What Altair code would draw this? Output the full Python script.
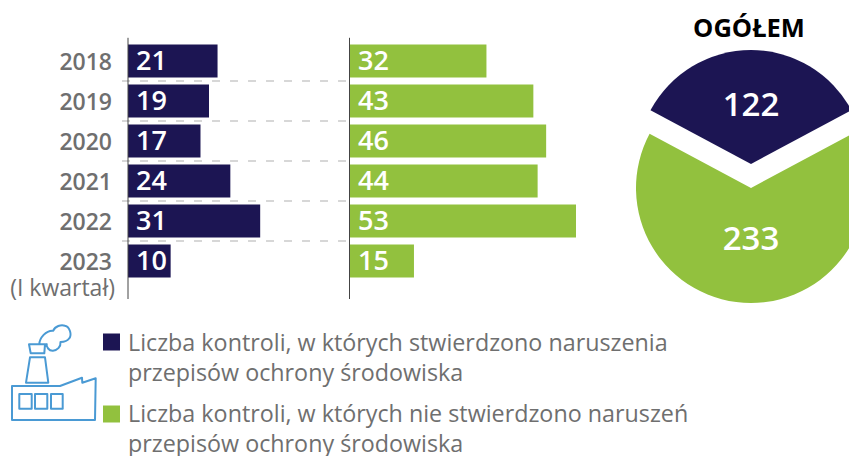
import altair as alt
import pandas as pd

years = ["2018", "2019", "2020", "2021", "2022", "2023"]
violations = [21, 19, 17, 24, 31, 10]
no_violations = [32, 43, 46, 44, 53, 15]
total_labels = ["122", "233"]
totals = [122, 233]
separators = [1, 2, 3, 4, 5]
legend_a = ["Liczba kontroli, w których stwierdzono naruszenia", "przepisów ochrony środowiska"]
legend_b = ["Liczba kontroli, w których nie stwierdzono naruszeń", "przepisów ochrony środowiska"]

NAVY = "#1c1553"
GREEN = "#92c13e"
GRAY = "#6f6f6f"
FONT = "Open Sans"

df = pd.DataFrame({"year": years, "a": violations, "b": no_violations})
ydom = alt.Scale(domain=years, range=[41, 281], paddingInner=0.175, paddingOuter=0.0875)
Y = alt.Y("year:N", scale=ydom, axis=None, sort=None)


def xscale(x0):
    return alt.Scale(domain=[0, 53], range=[x0, x0 + 226], nice=False, zero=False)


def bars(field, colour, x0):
    X = alt.X(f"{field}:Q", scale=xscale(x0), axis=None)
    bar = alt.Chart(df).mark_bar(color=colour, cornerRadius=0).encode(x=X, y=Y)
    txt = alt.Chart(df).mark_text(align="left", baseline="middle", dx=8, dy=1, font=FONT, fontSize=27,
                                  fontWeight=600, color="white").encode(
        x=alt.datum(0, scale=xscale(x0), axis=None), y=Y, text=f"{field}:Q")
    return [bar, txt]


def vline(x0):
    d = pd.DataFrame({"x": [0], "y1": [-0.08], "y2": [6.45]})
    yq = alt.Scale(domain=[0, 6], range=[41, 281], nice=False, zero=False)
    return alt.Chart(d).mark_rule(color="#444444", strokeWidth=1).encode(
        x=alt.X("x:Q", scale=xscale(x0), axis=None),
        y=alt.Y("y1:Q", scale=yq, axis=None), y2="y2:Q")


sep_df = pd.DataFrame({"i": separators, "x1": [-1.4] * 5, "x2": [53] * 5})
seps = alt.Chart(sep_df).mark_rule(color="#b0b0b0", strokeWidth=1.2, strokeDash=[8, 10]).encode(
    x=alt.X("x1:Q", scale=xscale(128), axis=None), x2="x2:Q",
    y=alt.Y("i:Q", scale=alt.Scale(domain=[0, 6], range=[41, 281], nice=False, zero=False), axis=None))

year_txt = alt.Chart(df).mark_text(align="right", baseline="middle", dx=-16, dy=1.5, font=FONT, fontSize=23,
                                   fontWeight=600, color=GRAY).encode(
    x=alt.datum(0, scale=xscale(128), axis=None), y=Y, text="year:N")


def label(text, x, y, size, colour, weight=400, align="left"):
    d = pd.DataFrame({"t": [text]})
    return alt.Chart(d).mark_text(align=align, baseline="middle", font=FONT, fontSize=size,
                                  fontWeight=weight, color=colour).encode(
        x=alt.value(x), y=alt.value(y), text="t:N")


def swatch(colour, x, y):
    d = pd.DataFrame({"k": [colour]})
    return alt.Chart(d).mark_square(size=289, color=colour, opacity=1).encode(
        x=alt.value(x), y=alt.value(y))


starts = [0, totals[0]]
ends = [totals[0], totals[0] + totals[1]]
half = totals[0] / (totals[0] + totals[1]) * 3.14159265
theta_scale = alt.Scale(domain=[0, ends[1]], range=[-half, 2 * 3.14159265 - half])


def slice_(i, colour, cy, r):
    d = pd.DataFrame({"s": [starts[i]], "e": [ends[i]]})
    return alt.Chart(d).mark_arc(color=colour, outerRadius=r).encode(
        theta=alt.Theta("s:Q", scale=theta_scale), theta2="e:Q",
        x=alt.value(751), y=alt.value(cy))


FACTORY = ("M-40 3 L8 3 L30 -5.3 L30.3 -0.3 L43.7 -4.7 L43 37 L-40 37 Z "
           "M-32.7 11 L-20.3 11 L-20.3 25.7 L-32.7 25.7 Z "
           "M-17 11 L-4.7 11 L-4.7 25.7 L-17 25.7 Z "
           "M-1 11 L10.7 11 L10.7 25.7 L-1 25.7 Z "
           "M-26 -0.3 L-22 -25.7 L-7 -25.7 L-3.7 -0.3 Z "
           "M-23 -38.7 L-7 -38.7 L-7.7 -29.7 L-21.3 -29.7 Z "
           "M-12.7 -38.7 C-12.5 -45 -6 -53 1.3 -52.3 C3 -57 9 -58.5 13 -57.3 C18 -56 20 -48 17.3 -44.7 "
           "C15.5 -42 12 -41 8.5 -41 C9 -36 5 -32.5 1 -32.3 C-3 -32 -6 -36 -5.3 -39.7")
icon = alt.Chart(pd.DataFrame({"k": ["factory"]})).mark_point(
    shape=FACTORY, size=4, filled=False, stroke="#4a9ad4", strokeWidth=2, opacity=1, strokeJoin="round").encode(
    x=alt.value(52), y=alt.value(383))

layers = (
    [seps]
    + bars("a", NAVY, 128)
    + bars("b", GREEN, 350)
    + [vline(128), vline(349.5), year_txt]
    + [label("(I kwartał)", 115, 288.5, 23, GRAY, 400, "right")]
    + [slice_(0, NAVY, 164, 114), slice_(1, GREEN, 188, 115)]
    + [label("OGÓŁEM", 749, 29, 25.5, "black", 700, "center"),
       label(total_labels[0], 751, 106, 33, "white", 600, "center"),
       label(total_labels[1], 751, 240, 33, "white", 600, "center")]
    + [icon, swatch(NAVY, 111.5, 342), swatch(GREEN, 111.5, 414)]
    + [label(legend_a[0], 128, 343.5, 23.3, GRAY), label(legend_a[1], 128, 374, 23.3, GRAY),
       label(legend_b[0], 128, 415, 23.3, GRAY), label(legend_b[1], 128, 445, 23.3, GRAY)]
)

chart = alt.layer(*layers).resolve_scale(x="independent", y="independent", theta="independent").properties(
    width=857, height=456, autosize=alt.AutoSizeParams(type="none"),
    padding={"left": -8, "top": -8, "right": -8, "bottom": 0}
).configure_view(stroke=None)

chart.save("out.html", embed_options={"renderer": "svg", "actions": False})
